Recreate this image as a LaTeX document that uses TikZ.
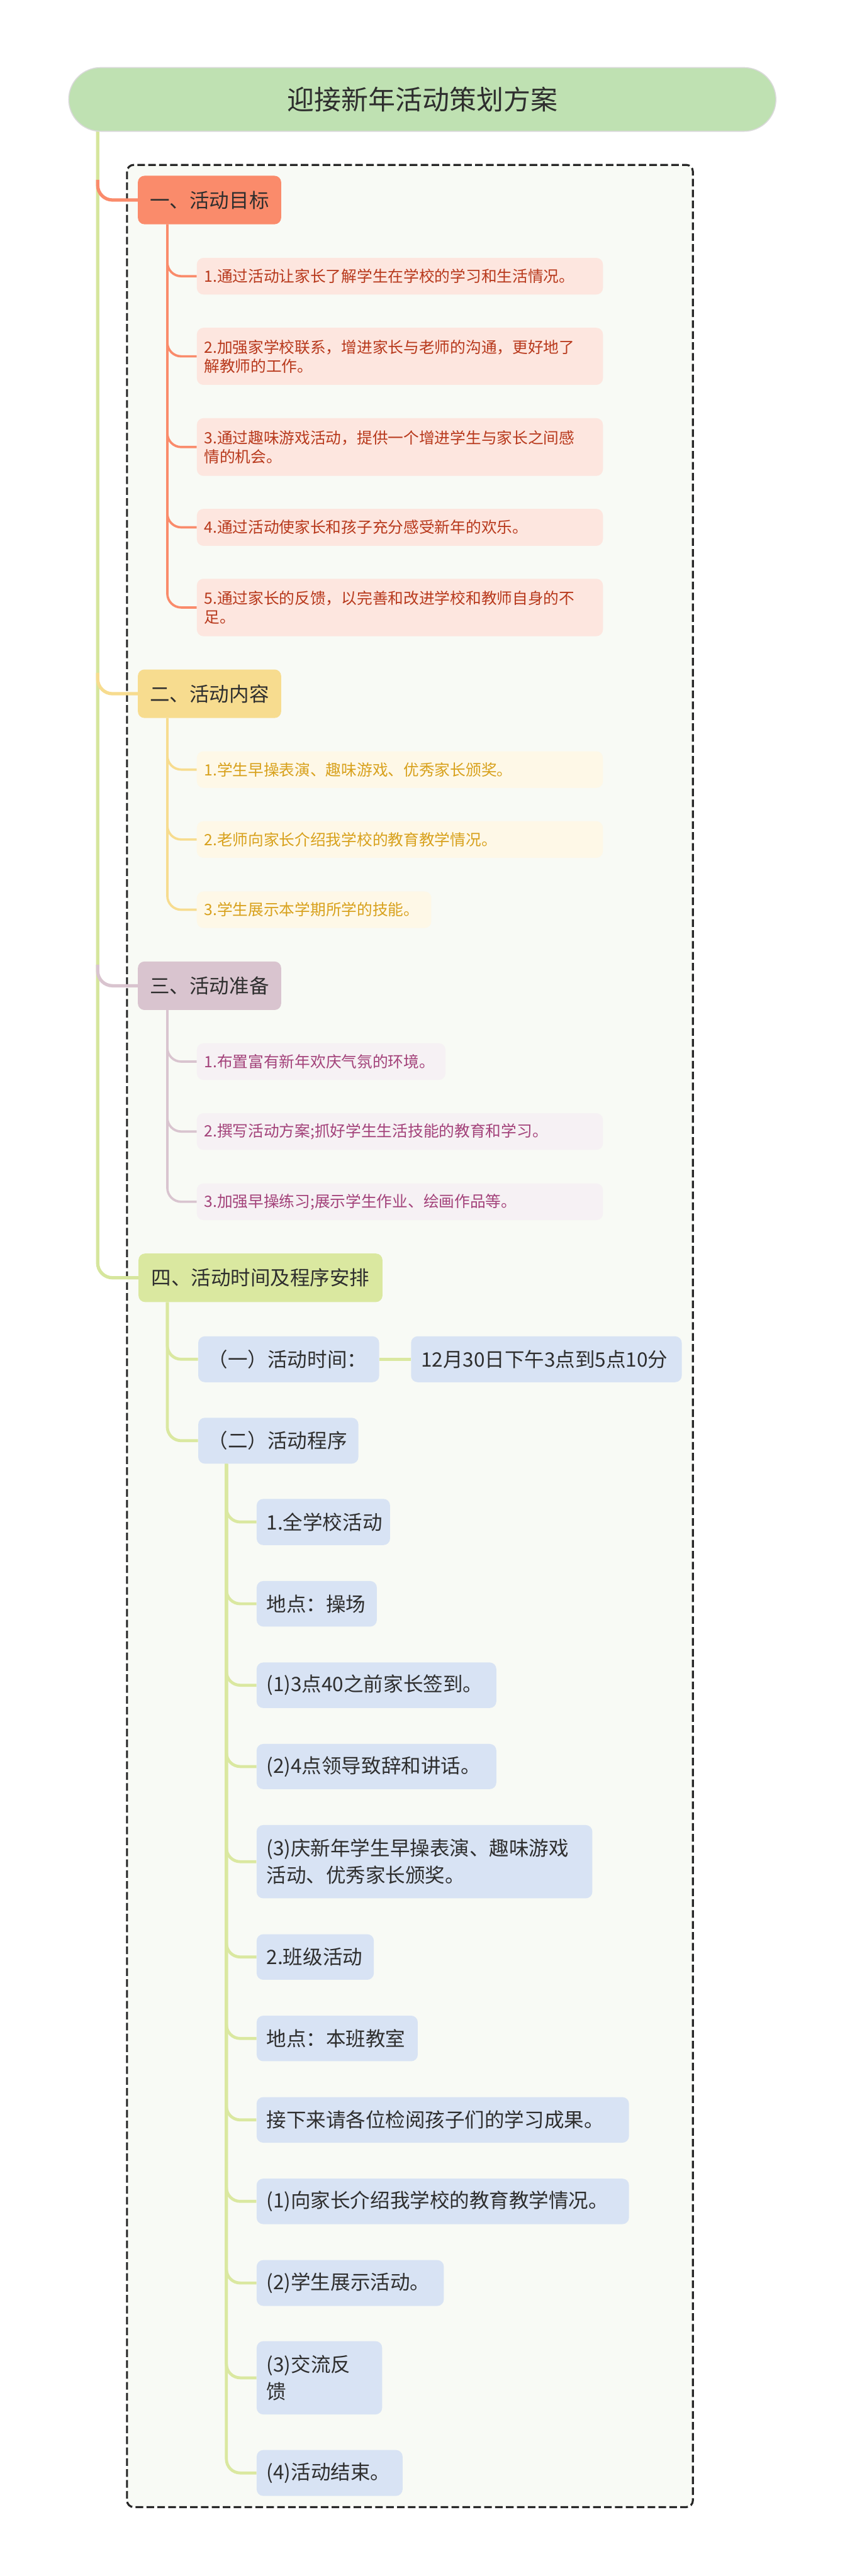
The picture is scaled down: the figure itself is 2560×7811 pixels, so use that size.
\documentclass[tikz,border=0pt]{standalone}
\usepackage{fontspec}
\setmainfont{Noto Sans CJK SC}
\pgfdeclarelayer{frm}
\pgfdeclarelayer{bg}
\pgfsetlayers{frm,bg,main}
\definecolor{trunkc}{HTML}{D6E69D}
\definecolor{cA}{HTML}{FA8B6B}
\definecolor{cAf}{HTML}{FDE6DF}
\definecolor{cAt}{HTML}{B8391C}
\definecolor{cB}{HTML}{F7DC8F}
\definecolor{cBf}{HTML}{FEF8E7}
\definecolor{cBt}{HTML}{D8A11C}
\definecolor{cC}{HTML}{D9C4CF}
\definecolor{cCf}{HTML}{F6F1F4}
\definecolor{cCt}{HTML}{A3427A}
\definecolor{cD}{HTML}{DAE8A0}
\definecolor{bluef}{HTML}{D8E3F4}
\definecolor{titlef}{HTML}{BFE1B2}
\definecolor{framef}{HTML}{F8FAF5}
\definecolor{darktext}{HTML}{2E2E2E}
\newcommand{\myfT}{\fontsize{23.3pt}{28pt}\selectfont}
\newcommand{\myfA}{\fontsize{17.1pt}{23.3pt}\selectfont}
\newcommand{\myfB}{\fontsize{13.4pt}{16.3pt}\selectfont}
\tikzset{
  bx/.style={rounded corners=0.2cm, inner ysep=0pt, align=left},
  lvone/.style={bx, inner xsep=0.3cm, font=\myfA, text=darktext, minimum width=4.34cm, text width=3.74cm, minimum height=1.47cm, align=center},
  boxA/.style={bx, inner xsep=0.22cm, font=\myfB, fill=cAf, text=cAt},
  boxB/.style={bx, inner xsep=0.22cm, font=\myfB, fill=cBf, text=cBt},
  boxC/.style={bx, inner xsep=0.22cm, font=\myfB, fill=cCf, text=cCt},
  boxD/.style={bx, inner xsep=0.3cm, font=\myfA, fill=bluef, text=darktext},
  wide/.style={minimum width=12.3cm, text width=11.86cm},
  one/.style={minimum height=1.11cm},
  two/.style={minimum height=1.74cm},
  brn/.style={line width=0.1cm, rounded corners=0.45cm},
  sub/.style={line width=0.07cm, rounded corners=0.42cm},
}
\begin{document}
\begin{tikzpicture}[x=0.01cm, y=-0.01cm]
\useasboundingbox (0,0) rectangle (2560,7811);
\begin{pgfonlayer}{frm}
\fill[white] (0,0) rectangle (2560,7811);
\draw[rounded corners=0.2cm, fill=framef, draw=black!85, line width=0.06cm, dash pattern=on 0.23cm off 0.1cm] (385,500) rectangle (2100,7602);
\end{pgfonlayer}

% title
\node[rounded corners=0.965cm, fill=titlef, draw=black!15, line width=0.03cm, minimum width=21.42cm, minimum height=1.93cm, font=\myfT, text=darktext] (title) at (1280,301.5) {迎接新年活动策划方案};

% level 1
\node[lvone, fill=cA] (n1) at (635,606.5) {一、活动目标};
\node[lvone, fill=cB] (n2) at (635,2103.5) {二、活动内容};
\node[lvone, fill=cC] (n3) at (635,2989) {三、活动准备};
\node[lvone, fill=cD, minimum width=7.39cm, text width=6.79cm] (n4) at (789.5,3874.5) {四、活动时间及程序安排};

% group A
\node[boxA, wide, one] (a1) at (1212,837.5) {1.通过活动让家长了解学生在学校的学习和生活情况。};
\node[boxA, wide, minimum height=1.73cm] (a2) at (1212,1080.5) {2.加强家学校联系，增进家长与老师的沟通，更好地了\\解教师的工作。};
\node[boxA, wide, minimum height=1.75cm] (a3) at (1212,1355.5) {3.通过趣味游戏活动，提供一个增进学生与家长之间感\\情的机会。};
\node[boxA, wide, minimum height=1.12cm] (a4) at (1212,1599) {4.通过活动使家长和孩子充分感受新年的欢乐。};
\node[boxA, wide, two] (a5) at (1212,1842) {5.通过家长的反馈，以完善和改进学校和教师自身的不\\足。};

% group B
\node[boxB, wide, one] (b1) at (1212,2333.5) {1.学生早操表演、趣味游戏、优秀家长颁奖。};
\node[boxB, wide, one] (b2) at (1212,2545.5) {2.老师向家长介绍我学校的教育教学情况。};
\node[boxB, one, minimum width=7.10cm, text width=6.66cm] (b3) at (952,2758.5) {3.学生展示本学期所学的技能。};

% group C
\node[boxC, one, minimum width=7.53cm, text width=7.09cm] (c1) at (973.5,3219) {1.布置富有新年欢庆气氛的环境。};
\node[boxC, wide, one] (c2) at (1212,3431) {2.撰写活动方案;抓好学生生活技能的教育和学习。};
\node[boxC, wide, one] (c3) at (1212,3644) {3.加强早操练习;展示学生作业、绘画作品等。};

% group D
\node[boxD, minimum height=1.39cm, minimum width=5.48cm, text width=4.88cm] (d1) at (875,4121.5) {（一）活动时间：};
\node[boxD, minimum height=1.39cm, minimum width=8.20cm, text width=7.60cm] (d1v) at (1656,4121.5) {12月30日下午3点到5点10分};
\node[boxD, minimum height=1.39cm, minimum width=4.85cm, text width=4.25cm] (d2) at (843.5,4368.5) {（二）活动程序};

% level 3
\node[boxD, minimum height=1.40cm, minimum width=4.04cm, text width=3.44cm] (e1) at (980,4615) {1.全学校活动};
\node[boxD, minimum height=1.38cm, minimum width=3.64cm, text width=3.04cm] (e2) at (960,4863) {地点：操场};
\node[boxD, minimum height=1.38cm, minimum width=7.26cm, text width=6.66cm] (e3) at (1141,5110) {(1)3点40之前家长签到。};
\node[boxD, minimum height=1.37cm, minimum width=7.26cm, text width=6.66cm] (e4) at (1141,5356.5) {(2)4点领导致辞和讲话。};
\node[boxD, minimum height=2.22cm, minimum width=10.17cm, text width=9.57cm] (e5) at (1286.5,5645) {(3)庆新年学生早操表演、趣味游戏\\活动、优秀家长颁奖。};
\node[boxD, minimum height=1.38cm, minimum width=3.55cm, text width=2.95cm] (e6) at (955.5,5934) {2.班级活动};
\node[boxD, minimum height=1.38cm, minimum width=4.88cm, text width=4.28cm] (e7) at (1022,6181) {地点：本班教室};
\node[boxD, minimum height=1.38cm, minimum width=11.28cm, text width=10.68cm] (e8) at (1342,6428) {接下来请各位检阅孩子们的学习成果。};
\node[boxD, minimum height=1.38cm, minimum width=11.28cm, text width=10.68cm] (e9) at (1342,6675) {(1)向家长介绍我学校的教育教学情况。};
\node[boxD, minimum height=1.39cm, minimum width=5.67cm, text width=5.07cm] (e10) at (1061.5,6922.5) {(2)学生展示活动。};
\node[boxD, minimum height=2.22cm, minimum width=3.80cm, text width=3.20cm] (e11) at (968,7210) {(3)交流反\\馈};
\node[boxD, minimum height=1.39cm, minimum width=4.42cm, text width=3.82cm] (e12) at (999,7498.5) {(4)活动结束。};

% connectors
\coordinate (tr) at (296,390);
\coordinate (j1) at (296,545);
\coordinate (j2) at (296,2040);
\coordinate (j3) at (296,2925);
\begin{pgfonlayer}{bg}
\draw[brn, trunkc] (tr) |- (n4.west);
\draw[brn, cA] (j1) |- (n1.west);
\draw[brn, cB] (j2) |- (n2.west);
\draw[brn, cC] (j3) |- (n3.west);
\foreach \c in {a1,a2,a3,a4,a5} \draw[sub, cA] (n1.south west) ++(90,0) |- (\c.west);
\foreach \c in {b1,b2,b3} \draw[sub, cB] (n2.south west) ++(90,0) |- (\c.west);
\foreach \c in {c1,c2,c3} \draw[sub, cC] (n3.south west) ++(90,0) |- (\c.west);
\foreach \c in {d1,d2} \draw[sub, cD, line width=0.09cm] (n4.south west) ++(88,0) |- (\c.west);
\draw[cD, line width=0.1cm] (d1.east) -- (d1v.west);
\foreach \c in {e1,e2,e3,e4,e5,e6,e7,e8,e9,e10,e11,e12} \draw[sub, cD, line width=0.09cm] (d2.south west) ++(86,0) |- (\c.west);
\end{pgfonlayer}
\end{tikzpicture}
\end{document}
